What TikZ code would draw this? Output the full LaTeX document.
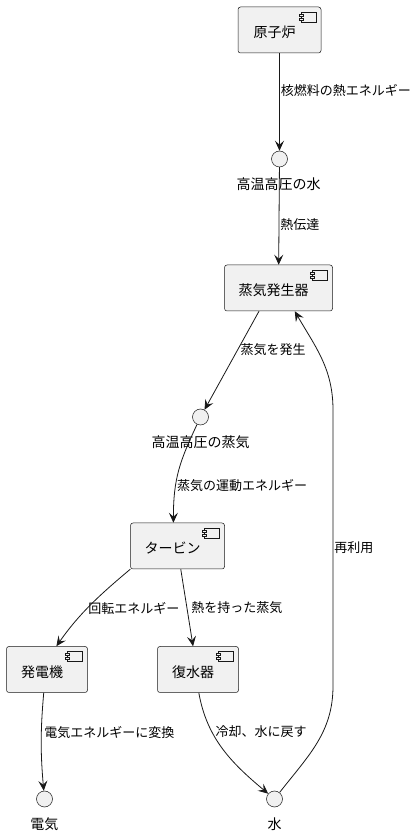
\documentclass[tikz,border=0pt]{standalone}
\usepackage{fontspec}
\setmainfont{Noto Sans CJK JP}
\usepackage{tikz}
\usetikzlibrary{arrows,arrows.meta}
\usetikzlibrary{positioning}
\definecolor{boxfill}{HTML}{F1F1F1}
\definecolor{linegray}{HTML}{181818}
\tikzstyle{plant_style}=[
	x=1pt,y=1pt,node distance=129pt,
	>={Stealth[length=10pt,width=9pt,inset=4pt]},
	component/.style={rectangle,rounded corners=2.5pt,fill=boxfill,draw=linegray,line width=0.5pt,minimum height=46pt,text height=16pt,text depth=0pt,font=\fontsize{14pt}{16pt}\selectfont,execute at end node={\hspace*{10pt}},
		path picture={
			\draw[comp_icon] ([shift={(-20pt,-5pt)}]path picture bounding box.north east) rectangle ([shift={(-5pt,-15pt)}]path picture bounding box.north east);
			\draw[comp_icon] ([shift={(-22pt,-7pt)}]path picture bounding box.north east) rectangle ([shift={(-18pt,-9pt)}]path picture bounding box.north east);
			\draw[comp_icon] ([shift={(-22pt,-11pt)}]path picture bounding box.north east) rectangle ([shift={(-18pt,-13pt)}]path picture bounding box.north east);
		}},
	comp_icon/.style={fill=boxfill,draw=linegray,line width=0.5pt,rounded corners=0pt},
	iface/.style={circle,fill=boxfill,draw=linegray,line width=0.5pt,minimum size=16pt,inner sep=0pt},
	iface_text/.style={rectangle,draw=none,inner sep=1pt,font=\fontsize{14pt}{16pt}\selectfont},
	flow/.style={->,draw=linegray,line width=0.8pt},
	flow_text/.style={rectangle,draw=none,inner sep=1pt,anchor=west,font=\fontsize{13pt}{15pt}\selectfont}
]
\begin{document}
\begin{tikzpicture}[plant_style]
		\useasboundingbox (0,0) rectangle (417,836);
		
		\node[component,minimum width=83pt]   (reactor) at (279.5,806) {原子炉};
		\node[iface]      (hot_water)[below of=reactor]   {};
		\node[iface_text] (hot_water_text)[below of=hot_water,node distance=25pt,xshift=-1pt] {高温高圧の水};
		
		\node[component,minimum width=108pt]  (steam_gen)[below of=hot_water,xshift=-1pt] {蒸気発生器};
		\node[iface]      (hot_steam)[below of=steam_gen,xshift=-78pt] {};
		\node[iface_text] (hot_steam_text)[below of=hot_steam,node distance=25pt] {高温高圧の蒸気};
		
		\node[component,minimum width=94pt]   (turbine)[below of=hot_steam,xshift=-23pt] {タービン};
		
		\node[component,minimum width=81pt]   (generator)[below of=turbine,node distance=123.5pt,xshift=-130.5pt] {発電機};
		\node[component,minimum width=81pt]   (condenser)[below of=turbine,node distance=123.5pt,xshift=20.5pt] {復水器};
		
		\node[iface]      (power)[below of=generator,node distance=129.5pt,xshift=-2.5pt] {};
		\node[iface_text] (power_text)[below of=power,node distance=25pt] {電気};
		\node[iface]      (water)[below of=condenser,node distance=129.5pt,xshift=76.5pt] {};
		\node[iface_text] (water_text)[below of=water,node distance=25pt] {水};
		
		\coordinate (return_low)  at (333,150);
		\coordinate (return_high) at (333,426);
		
		
		\path[->] (reactor) edge [flow] node[flow_text,pos=0.38] {核燃料の熱エネルギー} (hot_water)
		(hot_water) edge [flow] node[flow_text,pos=0.59] {熱伝達} (steam_gen);
		
		\path[->] (steam_gen.-130) edge [flow] node[flow_text,pos=0.39,xshift=1.5pt] {蒸気を発生} (hot_steam)
		(hot_steam) edge [flow,out=-115,in=90,out distance=40pt,in distance=45pt] node[flow_text,pos=0.67] {蒸気の運動エネルギー} (turbine.100);
		
		\path[->] (turbine.south west) edge [flow,out=-140,in=55,out distance=40pt,in distance=40pt] node[flow_text,pos=0.55] {回転エネルギー} (generator.68)
		(turbine.-82) edge [flow] node[flow_text,pos=0.5,xshift=3pt] {熱を持った蒸気} (condenser.102);
		
		\path[->] (generator.-98) edge [flow,out=-95,in=95] node[flow_text,pos=0.4,xshift=1.5pt] {電気エネルギーに変換} (power)
		(condenser.-88) edge [flow,out=-80,in=140,out distance=47pt,in distance=47pt] node[flow_text,pos=0.32,xshift=2.5pt] {冷却、水に戻す} (water);
		
		\draw[flow] (water) to[out=52,in=-90] (return_low) -- node[flow_text,pos=0.5] {再利用} (return_high) to[out=90,in=-60] (steam_gen.-55);
		
\end{tikzpicture}
\end{document}
